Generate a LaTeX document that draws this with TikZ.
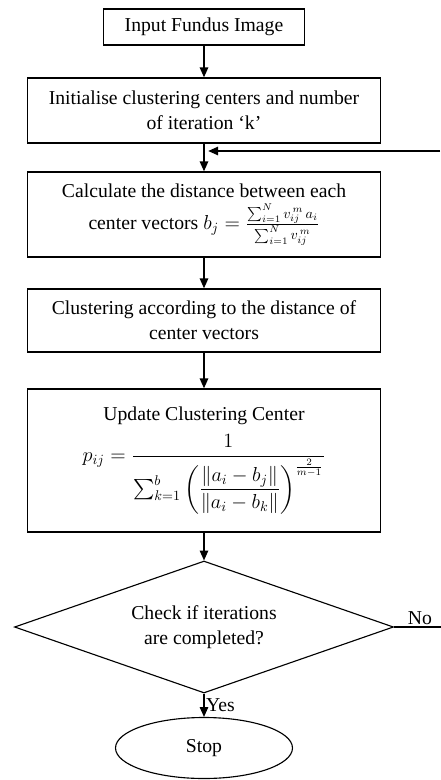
\documentclass[tikz,border=0pt]{standalone}
\usepackage{fontspec}
\setmainfont{Liberation Serif}
\usepackage{amsmath}
\usetikzlibrary{arrows.meta, shapes.geometric}

\begin{document}
\begin{tikzpicture}[
    every node/.style={font=\fontsize{14}{18}\selectfont},
    box/.style={
        rectangle,
        draw=black,
        line width=1pt,
        align=center,
        minimum width=8.825cm,
        inner sep=4pt
    },
    startbox/.style={box, minimum width=5.025cm, minimum height=0.9cm},
    decision/.style={diamond, draw=black, line width=0.8pt, aspect=2.87, align=center, inner sep=0pt,
        minimum width=9.475cm, minimum height=3.3cm},
    terminal/.style={ellipse, draw=black, line width=0.8pt, minimum width=4.425cm, minimum height=1.525cm},
    arrow/.style={-{Triangle[width=6pt,length=7pt]}, line width=1pt},
    plain/.style={line width=1pt}
]

\useasboundingbox (0,0) rectangle (11.025,-19.5);

% NODES
\node[startbox] (input) at (5.1,-0.675) {Input Fundus Image};
\node[box, minimum height=1.625cm] (init) at (5.1,-2.7625)
    {Initialise clustering centers and number\\ of iteration `k'};
\node[box, minimum height=2.125cm] (calc) at (5.1,-5.3625)
    {Calculate the distance between each\\[4pt]
     center vectors $b_j = \frac{\sum\nolimits_{i=1}^{N} v_{ij}^{\,m}\, a_i}{\sum\nolimits_{i=1}^{N} v_{ij}^{\,m}}$};
\node[box, minimum height=1.575cm] (group) at (5.1,-8.0125)
    {Clustering according to the distance of\\ center vectors};
\node[box, minimum height=3.575cm] (update) at (5.1,-11.5125)
    {Update Clustering Center\\[6pt]
     $p_{ij} = \dfrac{1}{\sum_{k=1}^{b}\left(\dfrac{\lVert a_i - b_j\rVert}{\lVert a_i - b_k\rVert}\right)^{\frac{2}{m-1}}}$};
\node[decision] (check) at (5.1,-15.675) {Check if iterations\\ are completed?};
\node[terminal] (stop) at (5.1,-18.7) {Stop};

% LOOP ENDS
\coordinate (merge)  at (5.1,-3.775);
\coordinate (loopin) at (11.0,-3.775);
\coordinate (noend)  at (11.025,-15.675);

% ARROWS
\draw[arrow] (input) -- (init);
\draw[arrow] (init) -- (calc);
\draw[arrow] (loopin) -- ([xshift=3pt]merge);
\draw[arrow] (calc) -- (group);
\draw[arrow] (group) -- (update);
\draw[arrow] (update) -- (check);
\draw[plain] (check) -- node[above, pos=0.55, inner sep=1pt] {No} (noend);
\draw[arrow] (check) -- node[right, inner sep=1pt] {Yes} (stop);

\end{tikzpicture}
\end{document}
